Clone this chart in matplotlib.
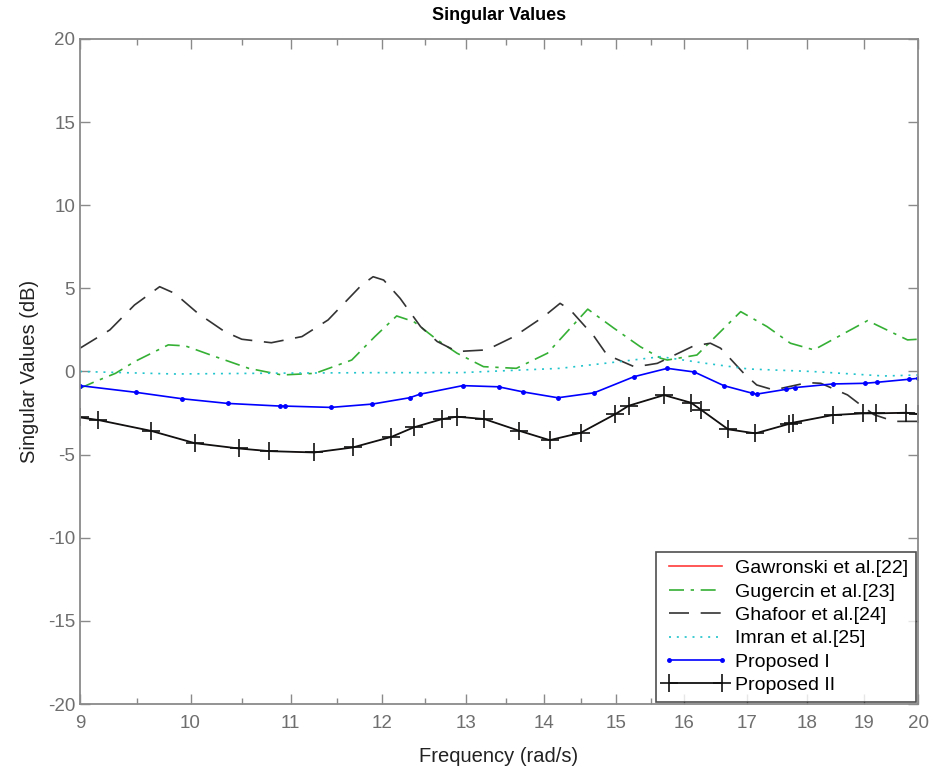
import matplotlib
matplotlib.use("Agg")
import matplotlib.pyplot as plt
from matplotlib.ticker import FixedLocator, NullFormatter

plt.rcParams['font.family'] = ['Liberation Sans', 'DejaVu Sans']
plt.rcParams['axes.unicode_minus'] = False

# Gugercin et al. [23]
f_gug = [9.0, 9.13, 9.31, 9.48, 9.79, 9.95, 10.24, 10.57, 10.91, 11.26, 11.66, 11.92,
         12.17, 12.37, 12.65, 12.89, 13.22, 13.64, 14.05, 14.60, 14.97, 15.35, 15.65,
         15.75, 16.20, 16.89, 17.32, 17.71, 18.11, 19.06, 19.80, 20.0]
db_gug = [-1.01, -0.61, -0.11, 0.59, 1.60, 1.54, 0.89, 0.19, -0.21, -0.11, 0.69, 2.10,
          3.34, 3.00, 1.90, 1.10, 0.29, 0.19, 1.10, 3.75, 2.60, 1.49, 0.80,
          0.69, 0.99, 3.60, 2.70, 1.70, 1.30, 3.06, 1.90, 1.94]

# Ghafoor et al. [24]
f_gha = [9.0, 9.26, 9.48, 9.71, 9.85, 10.07, 10.33, 10.50, 10.80, 11.12, 11.40, 11.77,
         11.90, 12.02, 12.21, 12.45, 12.65, 12.89, 13.26, 13.61, 14.00, 14.22, 14.36,
         14.69, 14.87, 15.26, 15.45, 15.60, 16.15, 16.41, 16.57, 16.94, 17.15, 17.43,
         18.00, 18.23, 18.70, 18.93, 19.18, 19.55, 20.0]
db_gha = [1.40, 2.50, 4.00, 5.10, 4.70, 3.50, 2.40, 1.94, 1.73, 2.10, 3.10, 5.20,
          5.70, 5.50, 4.40, 2.70, 1.80, 1.20, 1.30, 2.10, 3.30, 4.10, 3.70,
          2.10, 1.00, 0.29, 0.39, 0.49, 1.54, 1.70, 1.40, -0.11, -0.81, -1.11,
          -0.67, -0.71, -1.41, -2.00, -2.60, -3.00, -3.00]

# Imran et al. [25]
f_imr = [9.0, 9.85, 10.86, 11.92, 12.93, 14.22, 14.92, 15.65, 16.34, 17.02, 18.08, 19.36, 20.0]
db_imr = [0.0, -0.15, -0.10, -0.07, -0.07, 0.19, 0.53, 0.89, 0.49, 0.15, 0.0, -0.27, -0.21]

# Proposed I
f_p1 = [9.0, 9.49, 9.92, 10.36, 10.89, 10.94, 11.43, 11.89, 12.32, 12.44, 12.96, 13.41,
        13.73, 14.19, 14.69, 15.26, 15.75, 16.16, 16.62, 17.08, 17.15, 17.64, 17.78,
        18.44, 19.01, 19.23, 19.82, 20.0]
db_p1 = [-0.85, -1.25, -1.64, -1.92, -2.08, -2.08, -2.16, -1.96, -1.58, -1.37, -0.85, -0.92,
         -1.23, -1.58, -1.28, -0.31, 0.19, -0.03, -0.85, -1.31, -1.36, -1.07, -0.97,
         -0.75, -0.71, -0.65, -0.47, -0.41]

# Proposed II
f_p2 = [9.0, 9.16, 9.63, 10.04, 10.47, 10.78, 11.25, 11.67, 12.11, 12.37, 12.71, 12.89,
        13.23, 13.68, 14.08, 14.50, 14.99, 15.18, 15.70, 16.11, 16.27, 16.69, 17.13,
        17.68, 17.75, 18.44, 18.97, 19.21, 19.78, 20.0]
db_p2 = [-2.76, -2.92, -3.57, -4.31, -4.63, -4.79, -4.87, -4.57, -3.93, -3.36, -2.86, -2.72,
         -2.86, -3.57, -4.13, -3.69, -2.56, -2.06, -1.42, -1.88, -2.32, -3.48, -3.72,
         -3.16, -3.08, -2.62, -2.52, -2.52, -2.48, -2.56]

# Gawronski et al. [22] coincides with Proposed II (hidden beneath it)
f_gaw = f_p2
db_gaw = db_p2

labels = ['Gawronski et al.[22]', 'Gugercin et al.[23]', 'Ghafoor et al.[24]',
          'Imran et al.[25]', 'Proposed I', 'Proposed II']
x_ticks = list(range(9, 21))
x_minor = [9.5 + i for i in range(7)]
y_ticks = list(range(-20, 21, 5))

fig = plt.figure(figsize=(9.33, 7.78), dpi=100)
ax = fig.add_axes([0.0857, 0.0951, 0.8983, 0.8548])

axis_grey = '#8a8a8a'
lw = 1.2
ax.plot(f_gaw, db_gaw, color='#ff3b3b', lw=0.4, label=labels[0], zorder=1)
ax.plot(f_gug, db_gug, color='#35b035', lw=lw, dashes=[9, 4, 2, 4], label=labels[1])
ax.plot(f_gha, db_gha, color='#333333', lw=lw, dashes=[12, 7], label=labels[2])
ax.plot(f_imr, db_imr, color='#20c4cc', lw=lw, dashes=[1.2, 3.5], label=labels[3])
ax.plot(f_p1, db_p1, color='#0000ff', lw=lw, marker='.', ms=5, label=labels[4])
ax.plot(f_p2, db_p2, color='#111111', lw=1.3, marker='+', ms=13, mew=1.2, label=labels[5])

ax.set_xscale('log')
ax.set_xlim(9, 20)
ax.set_ylim(-20, 20)
ax.xaxis.set_major_locator(FixedLocator(x_ticks))
ax.set_xticklabels([str(t) for t in x_ticks])
ax.xaxis.set_minor_locator(FixedLocator(x_minor))
ax.xaxis.set_minor_formatter(NullFormatter())
ax.set_yticks(y_ticks)

ax.tick_params(which='both', direction='in', top=True, right=True, colors=axis_grey,
               labelcolor='#6e6e6e', labelsize=13.5)
ax.tick_params(which='major', length=7, width=1)
ax.tick_params(which='minor', length=4, width=1)
ax.tick_params(axis='x', pad=8)
for s in ax.spines.values():
    s.set_color(axis_grey)
    s.set_linewidth(1.3)

ax.set_title('Singular Values', fontsize=13, fontweight='bold', pad=14)
ax.set_xlabel('Frequency (rad/s)', fontsize=14.5, color='#222222', labelpad=11)
ax.set_ylabel('Singular Values (dB)', fontsize=14.5, color='#222222', labelpad=6)

leg = ax.legend(loc='lower right', fontsize=14, frameon=True, fancybox=False,
                borderaxespad=0.1, handlelength=3.3, handletextpad=0.4, numpoints=2,
                labelspacing=0.3, borderpad=0.4)
leg.get_frame().set_edgecolor('#222222')
leg.get_frame().set_linewidth(1.2)
leg.legend_handles[0].set_linewidth(1.2)

fig.savefig('out.png', dpi=100)
